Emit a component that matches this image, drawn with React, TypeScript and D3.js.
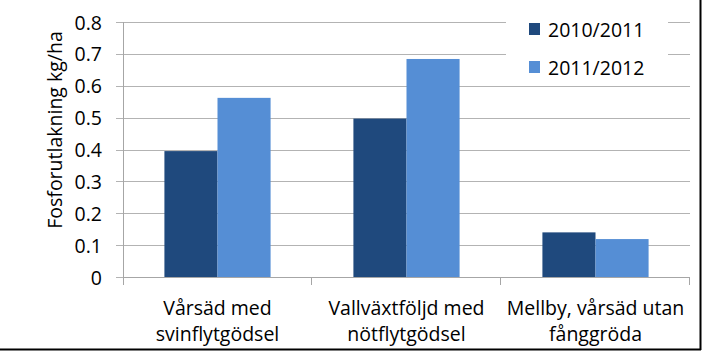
import * as d3 from "d3"
import React, { useRef, useEffect } from 'react';

// chart data
const categories = [
    ["Vårsäd med", "svinflytgödsel"],
    ["Vallväxtföljd med", "nötflytgödsel"],
    ["Mellby, vårsäd utan", "fånggröda"],
];
const seriesNames = ["2010/2011", "2011/2012"];
const values2010 = [0.395, 0.497, 0.14];
const values2011 = [0.562, 0.684, 0.119];
const yTicks = [0, 0.1, 0.2, 0.3, 0.4, 0.5, 0.6, 0.7, 0.8];
const colors = ["#1f497d", "#558ed5"];

const W = 702;
const H = 351;
const FONT = "Open Sans, sans-serif";
const FS = "19.5px";

const BarChart: React.FC = () => {
    const svgRef = useRef<SVGSVGElement | null>(null);

    useEffect(() => {
        const l = 123;
        const r = 690;
        const t = 22;
        const b = 277;

        const svg = d3.select(svgRef.current)
            .attr('width', W)
            .attr('height', H);
        svg.selectAll("*").remove();

        svg.append('rect')
            .attr('width', W)
            .attr('height', H)
            .attr('fill', '#FFFFFF');

        const x = d3.scaleBand<number>()
            .domain(categories.map((_, i) => i))
            .range([l, r]);
        const y = d3.scaleLinear()
            .domain([0, 0.8])
            .range([b, t]);

        // gridlines
        svg.append("g")
            .selectAll("line")
            .data(yTicks)
            .enter()
            .append("line")
            .attr("x1", l - 7)
            .attr("x2", r)
            .attr("y1", d => Math.round(y(d)) + 0.5)
            .attr("y2", d => Math.round(y(d)) + 0.5)
            .attr("stroke", "#b3b3b3")
            .attr("stroke-width", 1);

        // y tick labels
        svg.append("g")
            .selectAll("text")
            .data(yTicks)
            .enter()
            .append("text")
            .attr("x", 102)
            .attr("y", d => y(d))
            .attr("text-anchor", "end")
            .attr("dominant-baseline", "central")
            .style("font-family", FONT)
            .style("font-size", FS)
            .attr("fill", "#000")
            .text(d => d === 0 ? "0" : d.toFixed(1));

        // bars: group takes ~56% of each band
        const inner = d3.scaleBand<number>()
            .domain([0, 1])
            .range([0, x.bandwidth()])
            .paddingOuter(0.78)
            .paddingInner(0);

        const series = [values2010, values2011];
        series.forEach((vals, s) => {
            svg.append("g")
                .selectAll("rect")
                .data(vals)
                .enter()
                .append("rect")
                .attr("x", (_, i) => (x(i) ?? 0) + (inner(s) ?? 0))
                .attr("y", d => y(d))
                .attr("width", inner.bandwidth())
                .attr("height", d => y(0) - y(d))
                .attr("fill", colors[s]);
        });

        // axes lines
        svg.append("line")
            .attr("x1", l + 0.5).attr("x2", l + 0.5)
            .attr("y1", t).attr("y2", b + 8)
            .attr("stroke", "#a6a6a6");
        svg.append("line")
            .attr("x1", l).attr("x2", r)
            .attr("y1", b + 0.5).attr("y2", b + 0.5)
            .attr("stroke", "#a6a6a6");
        svg.append("g")
            .selectAll("line")
            .data([1, 2, 3])
            .enter()
            .append("line")
            .attr("x1", d => l + d * x.step() - 0.5)
            .attr("x2", d => l + d * x.step() - 0.5)
            .attr("y1", b)
            .attr("y2", b + 8)
            .attr("stroke", "#a6a6a6");

        // category labels
        const catG = svg.append("g");
        categories.forEach((lines, i) => {
            lines.forEach((line, j) => {
                catG.append("text")
                    .attr("x", (x(i) ?? 0) + x.bandwidth() / 2)
                    .attr("y", 307 + j * 26)
                    .attr("text-anchor", "middle")
                    .attr("dominant-baseline", "central")
                    .style("font-family", FONT)
                    .style("font-size", FS)
                    .attr("fill", "#000")
                    .text(line);
            });
        });

        // y title
        svg.append("text")
            .attr("transform", `translate(54,130) rotate(-90)`)
            .attr("text-anchor", "middle")
            .attr("dominant-baseline", "central")
            .style("font-family", FONT)
            .style("font-size", FS)
            .attr("fill", "#000")
            .text("Fosforutlakning kg/ha");

        // legend
        const lg = svg.append("g");
        lg.append("rect")
            .attr("x", 506).attr("y", 10)
            .attr("width", 162).attr("height", 70)
            .attr("fill", "#fff");
        seriesNames.forEach((name, i) => {
            lg.append("rect")
                .attr("x", 529).attr("y", 23 + i * 38)
                .attr("width", 11).attr("height", 12)
                .attr("fill", colors[i]);
            lg.append("text")
                .attr("x", 548).attr("y", 29 + i * 38)
                .attr("dominant-baseline", "central")
                .style("font-family", FONT)
                .style("font-size", FS)
                .attr("fill", "#000")
                .text(name);
        });

        // outer border (right / bottom)
        svg.append("line")
            .attr("x1", W - 1.5).attr("x2", W - 1.5)
            .attr("y1", 0).attr("y2", H - 1)
            .attr("stroke", "#000").attr("stroke-width", 2);
        svg.append("line")
            .attr("x1", 0).attr("x2", W - 1)
            .attr("y1", H - 1.5).attr("y2", H - 1.5)
            .attr("stroke", "#000").attr("stroke-width", 2);
    }, []);

    return (
        <>
            <svg ref={svgRef} style={{ position: "absolute", left: 0, top: 0, display: "block" }}></svg>
        </>
    );
};

export default function App() {
    return <BarChart />;
}
